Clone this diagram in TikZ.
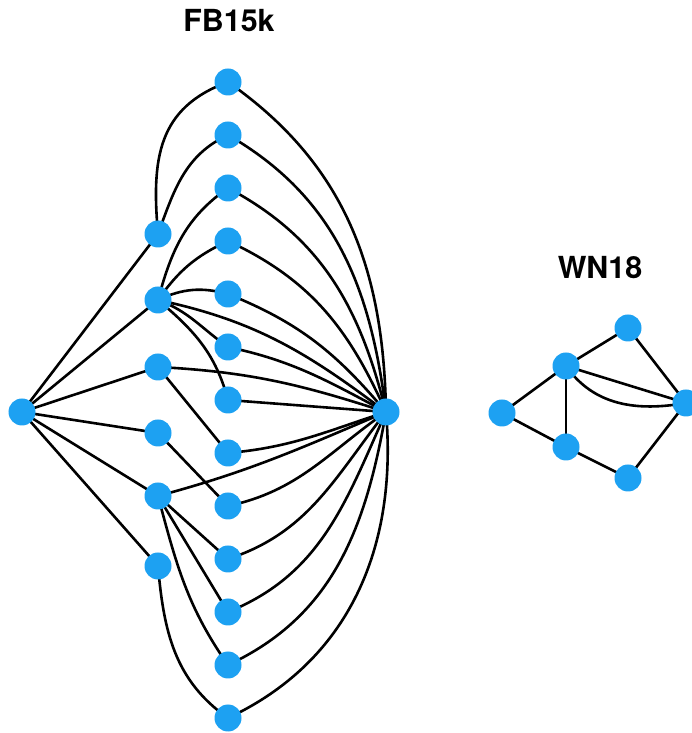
\documentclass[tikz,border=0pt]{standalone}
\usepackage{fontspec}
\setmainfont{TeX Gyre Heros}
\usetikzlibrary{backgrounds}
\definecolor{nodeblue}{RGB}{29,161,242}
\begin{document}
\begin{tikzpicture}[x=1bp,y=1bp,
  dot/.style={circle,fill=nodeblue,minimum size=27bp,inner sep=0pt},
  edge/.style={line width=2.6bp,black},
  ttl/.style={font=\bfseries\fontsize{30.5}{36}\selectfont,inner sep=0pt}]
\useasboundingbox (0,0) rectangle (692,733);
% titles
\node[ttl] (t1) at (229,712) {FB15k};
\node[ttl] (t2) at (600,465) {WN18};
% FB15k nodes
\node[dot] (L) at (22,321) {};
\node[dot] (R) at (386,321) {};
\node[dot] (m1) at (158,499) {};
\node[dot] (m2) at (158,433) {};
\node[dot] (m3) at (158,366) {};
\node[dot] (m4) at (158,300) {};
\node[dot] (m5) at (158,237) {};
\node[dot] (m6) at (158,167) {};
\node[dot] (r1) at (228,651) {};
\node[dot] (r2) at (228,598) {};
\node[dot] (r3) at (228,545) {};
\node[dot] (r4) at (228,492) {};
\node[dot] (r5) at (228,439) {};
\node[dot] (r6) at (228,386) {};
\node[dot] (r7) at (228,333) {};
\node[dot] (r8) at (228,280) {};
\node[dot] (r9) at (228,227) {};
\node[dot] (r10) at (228,174) {};
\node[dot] (r11) at (228,121) {};
\node[dot] (r12) at (228,68) {};
\node[dot] (r13) at (228,15) {};
% WN18 nodes
\node[dot] (a) at (502,320) {};
\node[dot] (b) at (566,367) {};
\node[dot] (c) at (628,405) {};
\node[dot] (d) at (686,330) {};
\node[dot] (e) at (566,286) {};
\node[dot] (f) at (628,255) {};
\begin{scope}[on background layer]
% left hub
\foreach \m in {m1,m2,m3,m4,m5,m6} \draw[edge] (L.center) -- (\m.center);
% m1
\draw[edge] (m1.center) to[out=95,in=200,looseness=1.15] (r1.center);
\draw[edge] (m1.center) to[out=70,in=205] (r2.center);
% m2
\draw[edge] (m2.center) to[out=75,in=215] (r3.center);
\draw[edge] (m2.center) to[out=55,in=205] (r4.center);
\draw[edge] (m2.center) to[out=25,in=165] (r5.center);
\draw[edge] (m2.center) to[out=-20,in=145] (r6.center);
\draw[edge] (m2.center) to[out=-40,in=105] (r7.center);
\draw[edge] (m2.center) to[out=-12,in=143] (R.center);
% m3
\draw[edge] (m3.center) to[out=-3,in=162] (R.center);
\draw[edge] (m3.center) -- (r8.center);
% m4
\draw[edge] (m4.center) -- (r9.center);
% m5
\draw[edge] (m5.center) to[out=15,in=203] (R.center);
\draw[edge] (m5.center) -- (r10.center);
\draw[edge] (m5.center) -- (r11.center);
\draw[edge] (m5.center) to[out=-75,in=125] (r12.center);
% m6
\draw[edge] (m6.center) to[out=-85,in=145] (r13.center);
% right hub
\draw[edge] (r1.center) to[out=-35,in=91] (R.center);
\draw[edge] (r2.center) to[out=-30,in=97] (R.center);
\draw[edge] (r3.center) to[out=-28,in=104] (R.center);
\draw[edge] (r4.center) to[out=-25,in=114] (R.center);
\draw[edge] (r5.center) to[out=-22,in=130] (R.center);
\draw[edge] (r6.center) to[out=-12,in=152] (R.center);
\draw[edge] (r7.center) -- (R.center);
\draw[edge] (r8.center) to[out=5,in=198] (R.center);
\draw[edge] (r9.center) to[out=12,in=215] (R.center);
\draw[edge] (r10.center) to[out=18,in=232] (R.center);
\draw[edge] (r11.center) to[out=22,in=246] (R.center);
\draw[edge] (r12.center) to[out=25,in=260] (R.center);
\draw[edge] (r13.center) to[out=25,in=275] (R.center);
% WN18 edges
\draw[edge] (a.center) -- (b.center);
\draw[edge] (a.center) -- (e.center);
\draw[edge] (b.center) -- (c.center);
\draw[edge] (b.center) -- (d.center);
\draw[edge] (b.center) to[out=-55,in=190] (d.center);
\draw[edge] (b.center) -- (e.center);
\draw[edge] (c.center) -- (d.center);
\draw[edge] (e.center) -- (f.center);
\draw[edge] (f.center) -- (d.center);
\end{scope}
\end{tikzpicture}
\end{document}
